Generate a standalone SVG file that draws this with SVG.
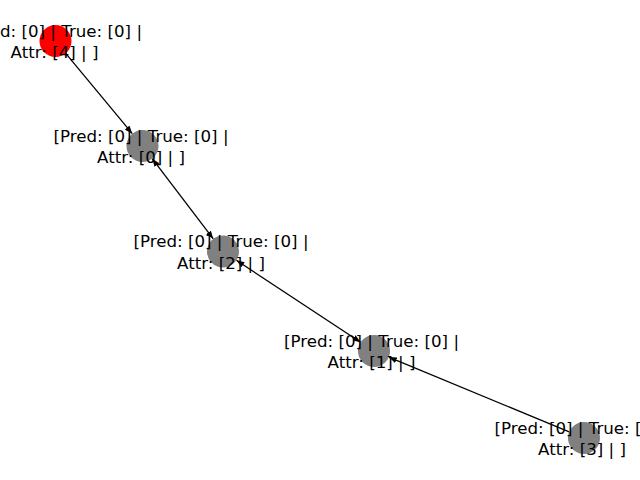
<svg xmlns="http://www.w3.org/2000/svg" width="640" height="480" viewBox="0 0 640 480">
  <style>
    .edge { stroke: #000; stroke-width: 1.3; fill: none; }
    .node { stroke: none; }
    .lbl { font-family: "DejaVu Sans", sans-serif; font-size: 16.67px; fill: #000; text-anchor: middle; }
  </style>
  <defs>
    <marker id="arrow" viewBox="0 0 8 6" refX="8" refY="3" markerWidth="8" markerHeight="6" markerUnits="userSpaceOnUse" orient="auto-start-reverse">
      <path d="M0,0 L8,3 L0,6 z" fill="#000"/>
    </marker>
  </defs>
  <rect width="640" height="480" fill="#fff"/>

  <g id="edges">
    <line class="edge" x1="65.7" y1="53.3" x2="132.3" y2="133.7" marker-end="url(#arrow)"/>
    <line class="edge" x1="152.2" y1="158.7" x2="213.3" y2="238.8" marker-start="url(#arrow)" marker-end="url(#arrow)"/>
    <line class="edge" x1="236.4" y1="260.3" x2="360.6" y2="342.2" marker-start="url(#arrow)" marker-end="url(#arrow)"/>
    <line class="edge" x1="569.2" y1="431.9" x2="388.8" y2="357.1" marker-end="url(#arrow)"/>
  </g>

  <g id="node4">
    <circle class="node" cx="55.5" cy="41" r="16" fill="#ff0000"/>
    <text class="lbl" x="54.5" y="36.5">[Pred: [0] | True: [0] |</text>
    <text class="lbl" x="54.5" y="58">Attr: [4] | ]</text>
  </g>
  <g id="node0">
    <circle class="node" cx="142.5" cy="146" r="16" fill="#808080"/>
    <text class="lbl" x="141" y="141.5">[Pred: [0] | True: [0] |</text>
    <text class="lbl" x="141" y="163">Attr: [0] | ]</text>
  </g>
  <g id="node2">
    <circle class="node" cx="223" cy="251.5" r="16" fill="#808080"/>
    <text class="lbl" x="221" y="247">[Pred: [0] | True: [0] |</text>
    <text class="lbl" x="221" y="268.5">Attr: [2] | ]</text>
  </g>
  <g id="node1">
    <circle class="node" cx="374" cy="351" r="16" fill="#808080"/>
    <text class="lbl" x="371.5" y="346.5">[Pred: [0] | True: [0] |</text>
    <text class="lbl" x="371.5" y="368">Attr: [1] | ]</text>
  </g>
  <g id="node3">
    <circle class="node" cx="584" cy="438" r="16" fill="#808080"/>
    <text class="lbl" x="582" y="433.5">[Pred: [0] | True: [0] |</text>
    <text class="lbl" x="582" y="455">Attr: [3] | ]</text>
  </g>
</svg>
